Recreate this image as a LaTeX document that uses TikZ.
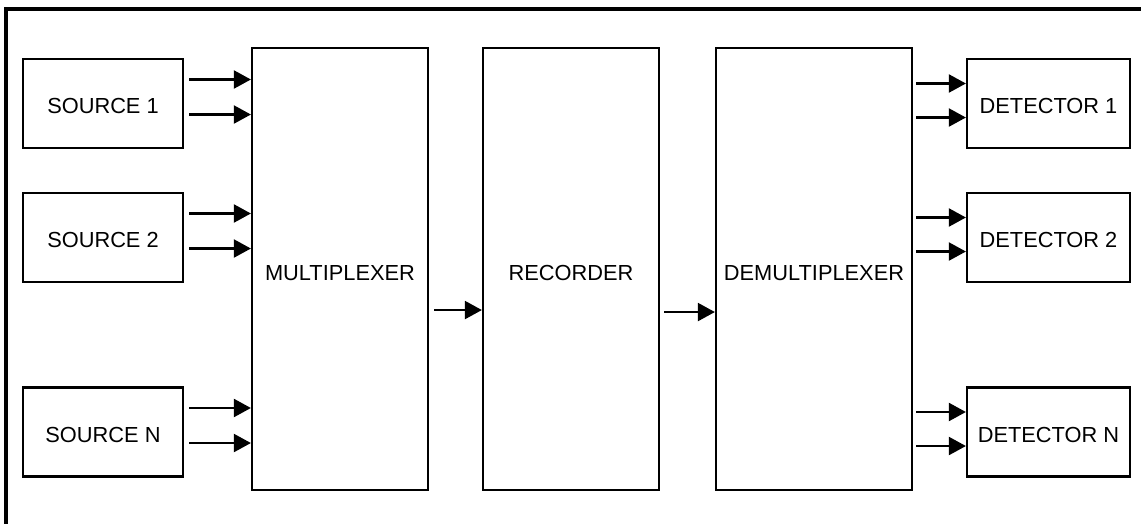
\documentclass[tikz,border=0pt]{standalone}
\usepackage{fontspec}
\setmainfont{Liberation Sans}
\usetikzlibrary{arrows.meta}
\begin{document}
\begin{tikzpicture}[
  x=0.01cm, y=-0.01cm,
  font=\fontsize{6.2}{7}\selectfont, >={Triangle[length=1.7mm, width=1.8mm]},
  src/.style={draw, line width=0.6pt, inner sep=0pt, text height=5.9pt,
    text depth=0pt, minimum width=16mm, minimum height=8.9mm},
  det/.style={src, minimum width=16.3mm},
  unit/.style={draw, line width=0.6pt, inner sep=0pt, text height=6.3pt,
    text depth=0pt, minimum width=#1, minimum height=44.2mm},
  sig/.style={->, line width=0.6pt},
]
\useasboundingbox (0,0) rectangle (1141,523);
\clip (0,0) rectangle (1141,523);
% frame
\draw[line width=1.3pt] (6,560) -- (6,9) -- (1180,9);
% chain
\node[unit=17.6mm] (mux) at (340,269) {MULTIPLEXER};
\node[unit=17.6mm] (rec) at (571,269) {RECORDER};
\node[unit=19.6mm] (demux) at (814,269) {DEMULTIPLEXER};
% sources and detectors
\foreach \n/\t/\y in {s1/SOURCE 1/103.5, s2/SOURCE 2/237.5, sn/SOURCE N/432} {
  \node[src] (\n) at (103,\y) {\t};
}
\foreach \n/\t/\y in {d1/DETECTOR 1/103.5, d2/DETECTOR 2/237.5, dn/DETECTOR N/432} {
  \node[det] (\n) at (1048.5,\y) {\t};
}
% inputs
\foreach \n in {s1,s2,sn} {
  \foreach \d in {2.4,-1.1}
    \draw[sig, shorten <=0.5mm] ([yshift=\d mm]\n.east)
      -- ([yshift=\d mm]\n.east -| mux.west);
}
% outputs
\foreach \n in {d1,d2,dn} {
  \foreach \d in {2.0,-1.4}
    \draw[sig, shorten <=0.3mm] ([yshift=\d mm]\n.west -| demux.east)
      -- ([yshift=\d mm]\n.west);
}
% links
\draw[sig, shorten <=0.5mm] ([yshift=-4.1mm]mux.east)
  -- ([yshift=-4.1mm]mux.east -| rec.west);
\draw[sig, shorten <=0.4mm] ([yshift=-4.3mm]rec.east)
  -- ([yshift=-4.3mm]rec.east -| demux.west);
\end{tikzpicture}
\end{document}
